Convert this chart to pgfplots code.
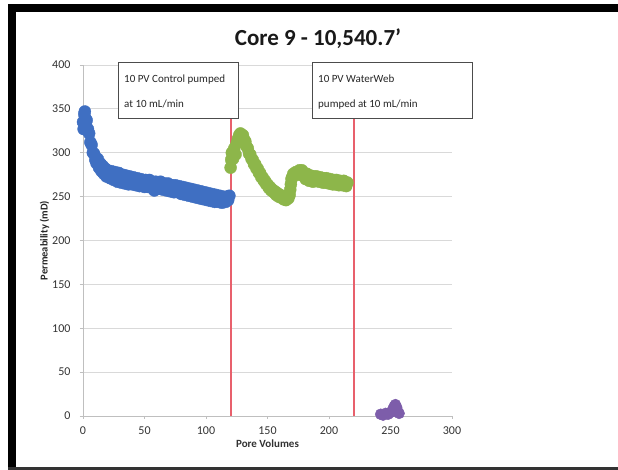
\documentclass[border=0pt]{standalone}
\usepackage{pgfplots}
\pgfplotsset{compat=1.18}
\usepackage{fontspec}
\setmainfont{Carlito}
\definecolor{sblue}{HTML}{3F6FC2}
\definecolor{sgreen}{HTML}{8DB64A}
\definecolor{spurple}{HTML}{7D5DAA}
\definecolor{sred}{HTML}{E8606C}
\definecolor{gridc}{HTML}{D9D9D9}
\definecolor{axc}{HTML}{BFBFBF}
\begin{document}
\begin{tikzpicture}[x=1pt,y=1pt]
\path[use as bounding box] (0,0) rectangle (618,470);
\fill[white] (0,0) rectangle (618,470);
\fill[black] (8,0) rectangle (16,466);
\fill[black] (8,458) rectangle (618,466);
\fill[black!80] (8,0) rectangle (618,3);
\begin{axis}[
  at={(83pt,54pt)}, anchor=south west,
  scale only axis, width=369pt, height=351pt,
  xmin=0, xmax=300, ymin=0, ymax=400,
  xtick={0,50,...,300}, ytick={0,50,...,400},
  ymajorgrids, grid style={gridc, line width=0.8pt},
  axis x line*=bottom, axis y line*=left,
  axis line style={axc, line width=0.8pt},
  tick style={axc, line width=0.8pt}, major tick length=3pt, tick align=outside,
  ticklabel style={font=\fontsize{12}{14}\selectfont, text=black!80},
  xticklabel style={yshift=-4pt},
  yticklabel style={xshift=-6pt},
  /pgf/number format/assume math mode=true,
  xlabel={\bfseries Pore Volumes}, ylabel={\bfseries Permeability (mD)},
  xlabel style={font=\fontsize{11}{13}\selectfont, text=black!80, yshift=1pt},
  ylabel style={font=\fontsize{10.5}{12}\selectfont, text=black!85, yshift=-4pt},
  clip=true,
]
\addplot[sred, line width=2pt] coordinates {(120,0)(120,400)};
\addplot[sred, line width=2pt] coordinates {(220,0)(220,400)};
\addplot[only marks, mark=*, mark size=6pt, sblue, mark options={draw=sblue, fill=sblue}] coordinates {
(0,335)(0.5,327)(1,344)(1.5,347)(2,339)(2.5,330)(3,337)(4,327)(5,322)(6,312)(7,309)(8,300)(9,299)(10,292)
(11,288)(12,293)(13,283)(14,288)(15,279)(16,285)(17,276)(18,282)(19,273)(20,280)(22,271)(23,279)(25,269)(26,278)
(28,267)(29,277)(31,266)(32,275)(34,265)(35,274)(37,264)(38,273)(40,264)(41,272)(43,263)(44,271)(46,262)(47,270)
(50,261)(51,269)(53,261)(54,269)(56,260)(57,261)(58,257)(59,267)(60,261)(62,259)(63,267)(65,258)(66,265)(68,257)
(69,265)(71,256)(72,263)(74,255)(75,263)(77,255)(78,262)(80,253)(81,261)(83,252)(84,260)(86,251)(87,259)(89,250)
(90,258)(92,249)(93,257)(95,248)(96,256)(98,247)(99,255)(101,246)(102,254)(104,245)(105,253)(107,244)(108,252)
(110,244)(111,251)(113,243)(114,250)(116,244)(117,250)(118,246)(119,251)
};
\addplot[only marks, mark=*, mark size=6pt, sgreen, mark options={draw=sgreen, fill=sgreen}] coordinates {
(120,283)(120.5,292)(121,300)(122,293)(123,305)(124,298)(125,311)(126,316)(127,320)(128,322)(129,320)(130,320)
(131,315)(132,313)(133,307)(134,305)(135,299)(136,298)(137,293)(138,292)(139,287)(140,287)(141,282)(142,282)
(143,277)(144,277)(145,272)(146,272)(147,268)(148,268)(149,264)(150,264)(151,260)(152,261)(153,257)(154,258)
(155,255)(156,256)(157,252)(158,254)(159,250)(160,252)(161,249)(162,251)(163,247)(164,250)(165,246)(166,249)
(167,248)(168,252)(168.5,258)(169,264)(169.5,270)(170,272)(171,276)(172,275)(173,278)(174,276)(175,275)
(176,280)(177,277)(178,280)(179,274)(180,275)(181,270)(182,276)(183,272)(184,268)(185,274)(186,271)(187,267)
(188,273)(189,269)(190,273)(191,268)(192,267)(193,272)(194,270)(195,266)(196,271)(197,266)(198,271)(199,267)
(200,265)(201,270)(202,267)(203,264)(204,269)(205,264)(206,269)(207,265)(208,263)(209,268)(210,265)(211,263)
(212,268)(213,264)(214,262)(215,266)
};
\addplot[only marks, mark=*, mark size=5.5pt, spurple, mark options={draw=spurple, fill=spurple}] coordinates {
(242,2)(244,1)(246,3)(248,2)(250,4)(251,5)(252,8)(253,11)(254,13)(255,10)(256,5)(257,3)
};
\end{axis}
\draw[black!70, line width=0.7pt, fill=white] (118,352) rectangle (238,408);
\draw[black!70, line width=0.7pt, fill=white] (312,352) rectangle (472,408);
\begin{scope}[every node/.style={anchor=base west, inner sep=0pt, font=\fontsize{11}{12}\selectfont, text=black!85}]
\node at (124,387) {10 PV Control pumped};
\node at (124,362) {at 10 mL/min};
\node at (318,387) {10 PV WaterWeb};
\node at (318,362) {pumped at 10 mL/min};
\end{scope}
\node[font=\fontsize{23}{26}\selectfont\bfseries, text=black!90] at (318,431) {Core 9 - 10,540.7'};
\end{tikzpicture}
\end{document}
